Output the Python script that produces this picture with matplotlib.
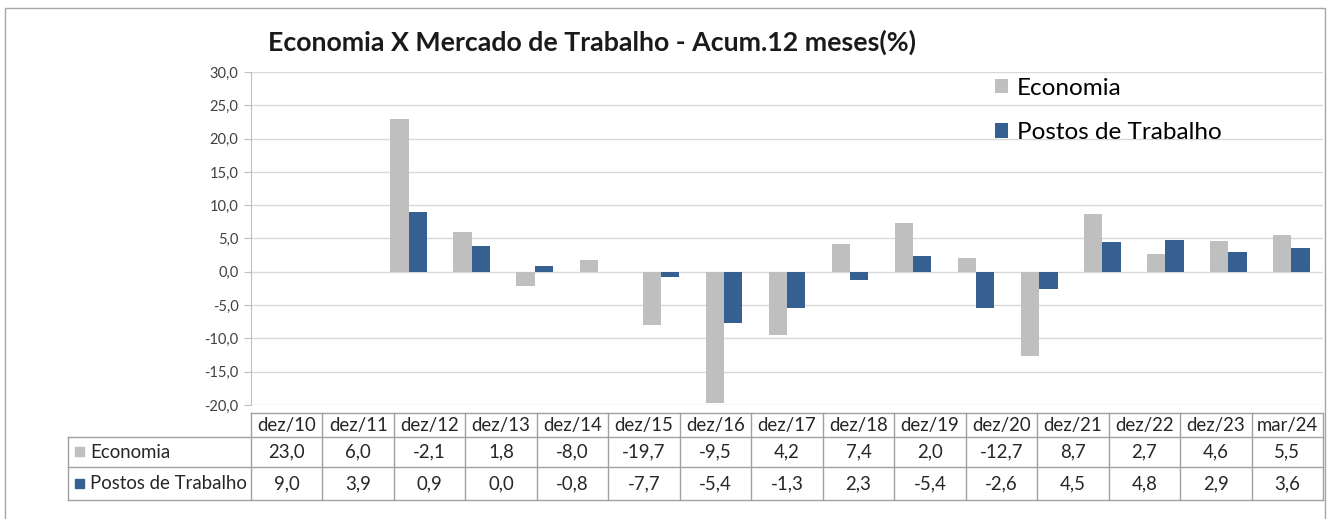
import numpy as np
import matplotlib
matplotlib.use("Agg")
import matplotlib.pyplot as plt
from matplotlib.patches import Rectangle

categories = ["dez/10", "dez/11", "dez/12", "dez/13", "dez/14", "dez/15",
              "dez/16", "dez/17", "dez/18", "dez/19", "dez/20", "dez/21",
              "dez/22", "dez/23", "mar/24"]
economia = [23.0, 6.0, -2.1, 1.8, -8.0, -19.7, -9.5, 4.2, 7.4, 2.0,
            -12.7, 8.7, 2.7, 4.6, 5.5]
postos = [9.0, 3.9, 0.9, 0.0, -0.8, -7.7, -5.4, -1.3, 2.3, -5.4,
          -2.6, 4.5, 4.8, 2.9, 3.6]
series_names = ["Economia", "Postos de Trabalho"]
yticks = [-20, -15, -10, -5, 0, 5, 10, 15, 20, 25, 30]
title = "Economia X Mercado de Trabalho - Acum.12 meses(%)"

GRAY = "#BFBFBF"
BLUE = "#376092"
W, H = 1338, 519

plt.rcParams["font.family"] = ["Lato", "DejaVu Sans"]


def fmt(v):
    return f"{v:.1f}".replace(".", ",")


fig = plt.figure(figsize=(W / 100, H / 100), dpi=100)

# pixel overlay for border, title and data table
over = fig.add_axes([0, 0, 1, 1])
over.set_xlim(0, W)
over.set_ylim(H, 0)
over.axis("off")
over.add_patch(Rectangle((5, 8), 1320, 520, fill=False,
                         edgecolor="#A6A6A6", linewidth=1))
over.text(268, 42, title, fontsize=19.3, fontweight="bold",
          ha="left", va="center", color="#1a1a1a")

# bar chart
plot_left, plot_right, plot_top, plot_bottom = 251, 1323, 72, 405
ax = fig.add_axes([plot_left / W, (H - plot_bottom) / H,
                   (plot_right - plot_left) / W,
                   (plot_bottom - plot_top) / H])
lead = 2
n_slots = len(categories) + lead
x = np.arange(len(categories)) + lead + 0.5
bw = 0.29
b1 = ax.bar(x - bw / 2, economia, width=bw, color=GRAY,
            label=series_names[0], zorder=3)
b2 = ax.bar(x + bw / 2, postos, width=bw, color=BLUE,
            label=series_names[1], zorder=3)
ax.set_xlim(0, n_slots)
ax.set_ylim(yticks[0], yticks[-1])
ax.set_yticks(yticks)
ax.set_yticklabels([fmt(v) for v in yticks], fontsize=10.5, color="#404040")
ax.set_xticks([])
ax.grid(axis="y", color="#D9D9D9", linewidth=1, zorder=0)
for s in ["top", "right", "bottom"]:
    ax.spines[s].set_visible(False)
ax.spines["left"].set_color("#BFBFBF")
ax.tick_params(axis="y", length=5, color="#BFBFBF", pad=4)
ax.patch.set_alpha(0)

ax.legend(handles=[b1, b2], loc="upper left",
          bbox_to_anchor=((985 - plot_left) / (plot_right - plot_left), 1.012),
          frameon=False, fontsize=17.5, handlelength=0.55, handleheight=0.55,
          handletextpad=0.35, labelspacing=0.95, borderaxespad=0)

# data table
tab_left = 68
rows_y = [413, 437, 467, 500]
col_w = (plot_right - plot_left) / len(categories)
col_x = [plot_left + i * col_w for i in range(len(categories) + 1)]
lc = "#A0A0A0"
over.plot([plot_left, plot_right], [rows_y[0]] * 2, color=lc, lw=1)
for yy in rows_y[1:]:
    over.plot([tab_left, plot_right], [yy] * 2, color=lc, lw=1)
over.plot([tab_left, tab_left], [rows_y[1], rows_y[3]], color=lc, lw=1)
for xx in col_x:
    over.plot([xx, xx], [rows_y[0], rows_y[3]], color=lc, lw=1)

tfs = 13.4
for i, cat in enumerate(categories):
    cx = (col_x[i] + col_x[i + 1]) / 2
    over.text(cx, (rows_y[0] + rows_y[1]) / 2, cat, ha="center",
              va="center", fontsize=tfs, color="#262626")
    over.text(cx, (rows_y[1] + rows_y[2]) / 2, fmt(economia[i]),
              ha="center", va="center", fontsize=tfs, color="#262626")
    over.text(cx, (rows_y[2] + rows_y[3]) / 2, fmt(postos[i]),
              ha="center", va="center", fontsize=tfs, color="#262626")

for r, (name, col) in enumerate(zip(series_names, [GRAY, BLUE])):
    cy = (rows_y[r + 1] + rows_y[r + 2]) / 2
    over.add_patch(Rectangle((75, cy - 5), 9, 9, color=col))
    over.text(90, cy, name, ha="left", va="center", fontsize=tfs,
              color="#262626")

fig.savefig("out.png", dpi=100)
